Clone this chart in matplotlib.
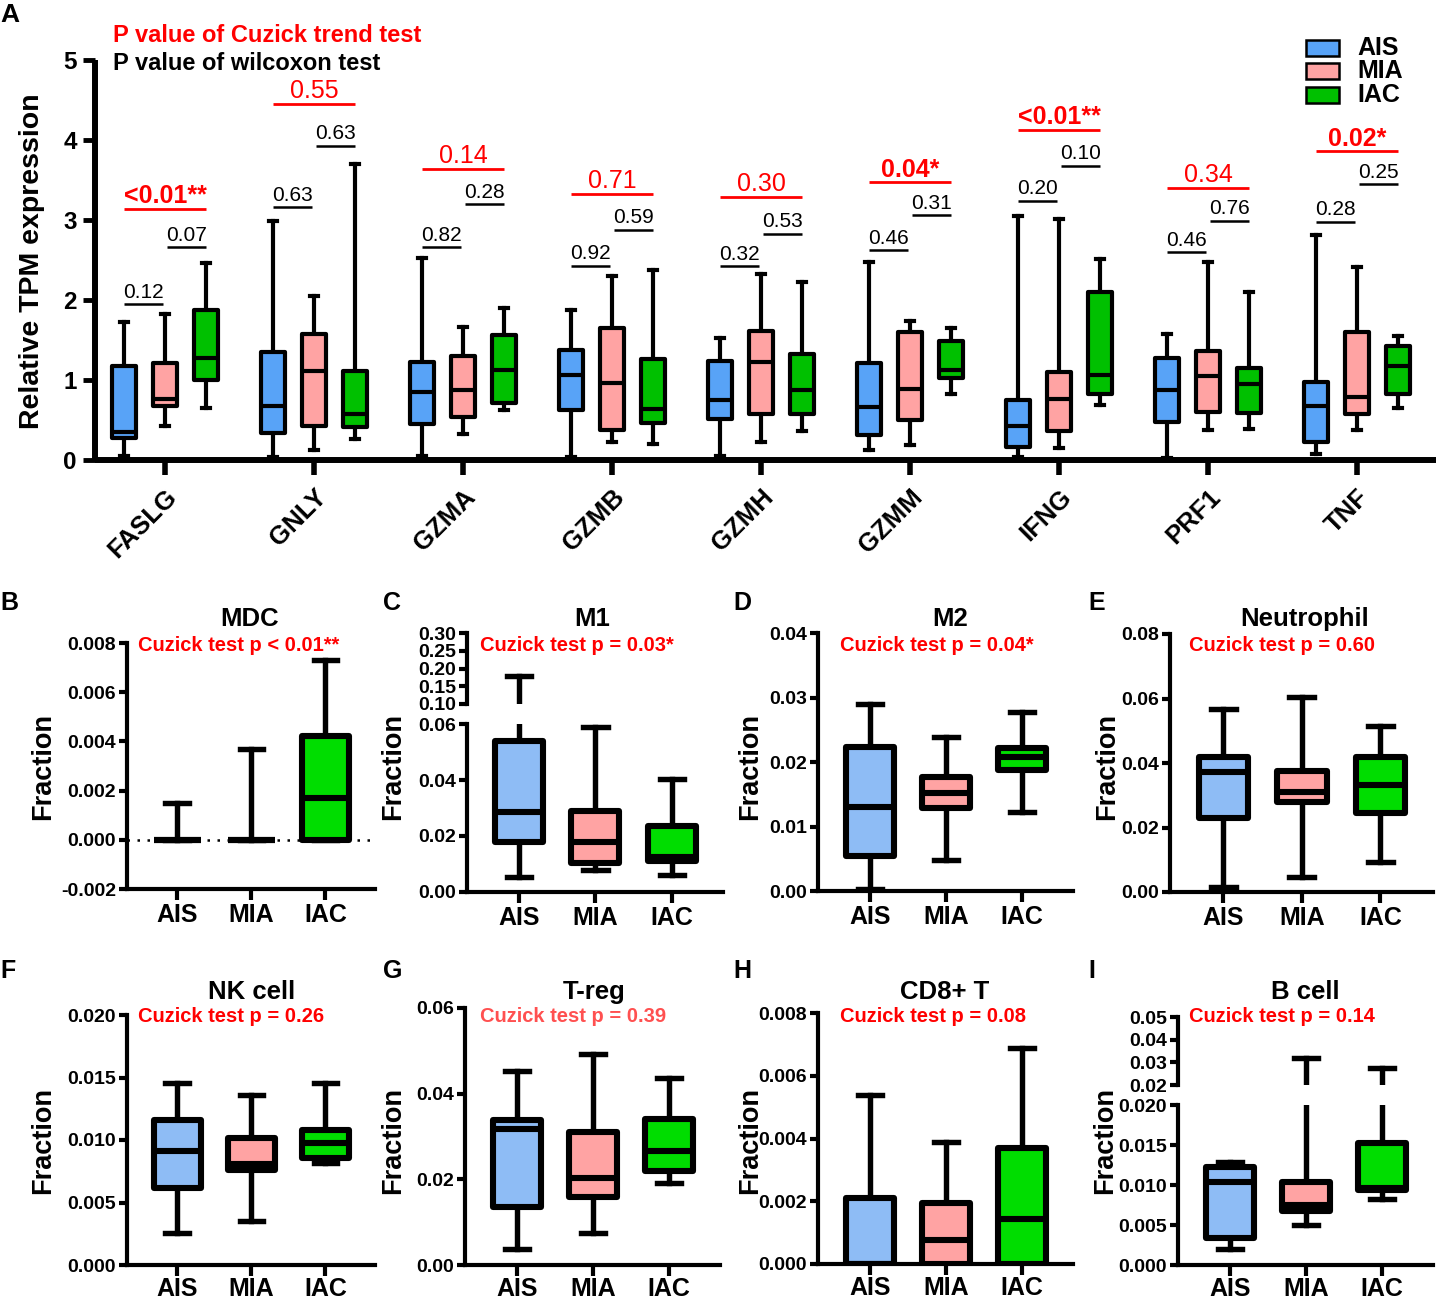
import matplotlib
matplotlib.use('Agg')
import matplotlib.pyplot as plt
from matplotlib.patches import Rectangle

plt.rcParams['font.family'] = ['Liberation Sans', 'DejaVu Sans']
plt.rcParams['font.weight'] = 'bold'

W, H = 1436, 1301
fig = plt.figure(figsize=(W / 100, H / 100), dpi=100)

def rect(x0, y0, x1, y1):
    return [x0 / W, 1 - y1 / H, (x1 - x0) / W, (y1 - y0) / H]

def ftext(x, y, s, **kw):
    return fig.text(x / W, 1 - y / H, s, **kw)

# ---------------- data ----------------
groups = ['AIS', 'MIA', 'IAC']
genes = ['FASLG', 'GNLY', 'GZMA', 'GZMB', 'GZMH', 'GZMM', 'IFNG', 'PRF1', 'TNF']

# (min, q1, median, q3, max) per gene
ais_expr = [(0.05, 0.28, 0.35, 1.17, 1.72), (0.04, 0.34, 0.67, 1.35, 2.99), (0.05, 0.45, 0.85, 1.23, 2.53),
            (0.04, 0.63, 1.06, 1.38, 1.88), (0.05, 0.51, 0.75, 1.24, 1.52), (0.12, 0.31, 0.66, 1.21, 2.47),
            (0.04, 0.16, 0.43, 0.75, 3.05), (0.02, 0.48, 0.87, 1.27, 1.58), (0.07, 0.23, 0.67, 0.97, 2.81)]
mia_expr = [(0.42, 0.68, 0.76, 1.21, 1.82), (0.12, 0.42, 1.11, 1.57, 2.05), (0.33, 0.54, 0.88, 1.30, 1.66),
            (0.23, 0.37, 0.96, 1.65, 2.30), (0.22, 0.57, 1.23, 1.61, 2.33), (0.19, 0.50, 0.89, 1.60, 1.74),
            (0.15, 0.36, 0.76, 1.10, 3.01), (0.38, 0.60, 1.05, 1.36, 2.48), (0.37, 0.57, 0.79, 1.60, 2.41)]
iac_expr = [(0.65, 1.00, 1.27, 1.88, 2.46), (0.26, 0.41, 0.58, 1.11, 3.70), (0.63, 0.71, 1.13, 1.56, 1.90),
            (0.20, 0.46, 0.64, 1.26, 2.38), (0.36, 0.57, 0.87, 1.33, 2.22), (0.83, 1.02, 1.13, 1.49, 1.65),
            (0.69, 0.82, 1.06, 2.10, 2.51), (0.39, 0.59, 0.95, 1.15, 2.10), (0.65, 0.82, 1.18, 1.43, 1.55)]

cuzick_p = ['<0.01**', '0.55', '0.14', '0.71', '0.30', '0.04*', '<0.01**', '0.34', '0.02*']
wilcox_ais_mia = ['0.12', '0.63', '0.82', '0.92', '0.32', '0.46', '0.20', '0.46', '0.28']
wilcox_mia_iac = ['0.07', '0.63', '0.28', '0.59', '0.53', '0.31', '0.10', '0.76', '0.25']
cuzick_y = [3.14, 4.45, 3.64, 3.33, 3.29, 3.47, 4.13, 3.40, 3.86]
wil1_y = [1.95, 3.16, 2.66, 2.43, 2.42, 2.62, 3.24, 2.60, 2.98]
wil2_y = [2.66, 3.93, 3.20, 2.88, 2.83, 3.06, 3.68, 2.99, 3.45]

# small panels: (min, q1, median, q3, max) for AIS, MIA, IAC
cells = ['MDC', 'M1', 'M2', 'Neutrophil', 'NK cell', 'T-reg', 'CD8+ T', 'B cell']
cell_p = ['Cuzick test p < 0.01**', 'Cuzick test p = 0.03*', 'Cuzick test p = 0.04*', 'Cuzick test p = 0.60',
          'Cuzick test p = 0.26', 'Cuzick test p = 0.39', 'Cuzick test p = 0.08', 'Cuzick test p = 0.14']
mdc = [(0, 0, 0, 0, 0.0015), (0, 0, 0, 0, 0.0037), (0, 0, 0.0017, 0.0042, 0.0073)]
m1 = [(0.0055, 0.0178, 0.0285, 0.054, 0.179), (0.0078, 0.0102, 0.018, 0.029, 0.0588), (0.006, 0.011, 0.0125, 0.0237, 0.0403)]
m2 = [(0.0003, 0.0054, 0.013, 0.0224, 0.029), (0.0048, 0.0128, 0.0152, 0.0176, 0.0239), (0.0122, 0.0188, 0.0207, 0.0222, 0.0278)]
neutrophil = [(0.0016, 0.0228, 0.0372, 0.0419, 0.0567), (0.0047, 0.0279, 0.031, 0.0375, 0.0605), (0.0093, 0.0245, 0.0332, 0.0419, 0.0515)]
nk = [(0.0026, 0.0062, 0.0091, 0.0116, 0.0146), (0.0035, 0.0076, 0.0081, 0.0102, 0.0136), (0.0082, 0.0086, 0.0098, 0.0108, 0.0146)]
treg = [(0.0037, 0.0135, 0.0318, 0.0338, 0.0453), (0.0075, 0.0159, 0.0203, 0.031, 0.0492), (0.0191, 0.0219, 0.0267, 0.034, 0.0436)]
cd8 = [(0, 0, 0, 0.0021, 0.0054), (0, 0, 0.00078, 0.00195, 0.0039), (0, 0, 0.00145, 0.0037, 0.0069)]
bcell = [(0.002, 0.0034, 0.0104, 0.0122, 0.0129), (0.005, 0.0068, 0.0075, 0.0104, 0.0319), (0.0083, 0.0094, 0.0096, 0.0152, 0.0275)]

colors_A = ['#58A3F7', '#FFA3A3', '#00C000']
colors_S = ['#8EBCF5', '#FFA3A3', '#00DD00']
RED = '#FF0000'

def to_stats(t):
    mn, q1, md, q3, mx = t
    return dict(whislo=mn, q1=q1, med=md, q3=q3, whishi=mx, fliers=[])

def draw_boxes(ax, stats_list, positions, width, capw, colors, lw, wlw):
    for st, pos, c in zip(stats_list, positions, colors):
        b = ax.bxp([to_stats(st)], positions=[pos], widths=width, capwidths=capw,
                   patch_artist=True, showfliers=False, manage_ticks=False,
                   boxprops=dict(facecolor=c, edgecolor='black', linewidth=lw, joinstyle='round'),
                   medianprops=dict(color='black', linewidth=lw),
                   whiskerprops=dict(color='black', linewidth=wlw),
                   capprops=dict(color='black', linewidth=wlw))
        for art in b['boxes']:
            art.set_zorder(3)
        for art in b['medians']:
            art.set_zorder(4)

# ---------------- Panel A ----------------
axA = fig.add_axes(rect(95, 60, 1436, 460))
axA.set_xlim(-0.47, 8.53)
axA.set_ylim(0, 5)
offs = [-0.275, 0.0, 0.275]
for g, expr in enumerate([ais_expr, mia_expr, iac_expr]):
    draw_boxes(axA, expr, [i + offs[g] for i in range(len(genes))], 0.16, 0.05,
               [colors_A[g]] * len(genes), 3.0, 3.0)

for i in range(len(genes)):
    p = cuzick_p[i]
    sig = '*' in p
    axA.plot([i - 0.275, i + 0.275], [cuzick_y[i]] * 2, color=RED, lw=2.0, solid_capstyle='butt')
    axA.text(i, cuzick_y[i] + 0.07, p, color=RED, fontsize=18,
             fontweight='bold' if sig else 'normal', ha='center', va='baseline')
    axA.plot([i - 0.275, i - 0.015], [wil1_y[i]] * 2, color='black', lw=1.8, solid_capstyle='butt')
    axA.text(i - 0.145, wil1_y[i] + 0.08, wilcox_ais_mia[i], color='black', fontsize=15,
             fontweight='normal', ha='center', va='baseline')
    axA.plot([i + 0.015, i + 0.275], [wil2_y[i]] * 2, color='black', lw=1.8, solid_capstyle='butt')
    axA.text(i + 0.145, wil2_y[i] + 0.08, wilcox_mia_iac[i], color='black', fontsize=15,
             fontweight='normal', ha='center', va='baseline')

for s in ['top', 'right']:
    axA.spines[s].set_visible(False)
for s in ['left', 'bottom']:
    axA.spines[s].set_linewidth(4.3)
    axA.spines[s].set_capstyle('butt')
axA.set_yticks(range(6))
axA.set_yticklabels([str(v) for v in range(6)], fontsize=17.5, fontweight='bold')
axA.set_xticks(range(len(genes)))
axA.set_xticklabels(genes, fontsize=18.5, fontweight='bold', rotation=45, ha='right',
                    rotation_mode='anchor')
axA.tick_params(axis='y', length=9, width=3.5, pad=4)
axA.tick_params(axis='x', length=11, width=4, pad=7)

ftext(32, 261, 'Relative TPM expression', rotation=90, fontsize=20.5, fontweight='bold',
      ha='center', va='center')
ftext(113, 35, 'P value of Cuzick trend test', color=RED, fontsize=17, fontweight='bold', va='center')
ftext(113, 63, 'P value of wilcoxon test', color='black', fontsize=17, fontweight='bold', va='center')
ftext(0, 15, 'A', fontsize=19, fontweight='bold', va='center')

# legend (manual, in pixel space)
leg_y = [48, 71, 95]
for name, c, yy in zip(groups, colors_A, leg_y):
    fig.patches.append(Rectangle(((1306) / W, 1 - (yy + 8) / H), 33 / W, 16 / H, transform=fig.transFigure,
                                 facecolor=c, edgecolor='black', linewidth=1.8))
    ftext(1357, yy, name, fontsize=18, fontweight='bold', va='center')

# ---------------- small panels ----------------
XL = (-0.68, 2.67)

def style_small(ax, ylim, yticks, fmt, show_x=True, xpad=2):
    ax.set_xlim(*XL)
    ax.set_ylim(*ylim)
    for s in ['top', 'right']:
        ax.spines[s].set_visible(False)
    for s in ['left', 'bottom']:
        ax.spines[s].set_linewidth(3.0)
    ax.set_yticks(yticks)
    ax.set_yticklabels([fmt.format(v) for v in yticks], fontsize=14, fontweight='bold')
    ax.tick_params(axis='y', length=6, width=3, pad=2)
    if show_x:
        ax.set_xticks([0, 1, 2])
        ax.set_xticklabels(groups, fontsize=18, fontweight='bold')
        ax.tick_params(axis='x', length=8, width=3, pad=xpad)
    else:
        ax.spines['bottom'].set_visible(False)
        ax.set_xticks([])

def yticks_range(a, b, step):
    n = int(round((b - a) / step))
    return [a + k * step for k in range(n + 1)]

panel_specs = [
    (mdc, (127, 643, 375, 889), (-0.002, 0.008), yticks_range(-0.002, 0.008, 0.002), '{:.3f}', None, None, None, None),
    (m1, (467, 724, 723, 892), (0, 0.06), yticks_range(0, 0.06, 0.02), '{:.2f}', (467, 633, 723, 704), (0.10, 0.30), yticks_range(0.10, 0.30, 0.05), '{:.2f}'),
    (m2, (818, 633, 1073, 891), (0, 0.04), yticks_range(0, 0.04, 0.01), '{:.2f}', None, None, None, None),
    (neutrophil, (1170, 634, 1433, 892), (0, 0.08), yticks_range(0, 0.08, 0.02), '{:.2f}', None, None, None, None),
    (nk, (127, 1015, 375, 1265), (0, 0.020), yticks_range(0, 0.020, 0.005), '{:.3f}', None, None, None, None),
    (treg, (465, 1008, 720, 1265), (0, 0.06), yticks_range(0, 0.06, 0.02), '{:.2f}', None, None, None, None),
    (cd8, (818, 1013, 1073, 1264), (0, 0.008), yticks_range(0, 0.008, 0.002), '{:.3f}', None, None, None, None),
    (bcell, (1178, 1105, 1433, 1265), (0, 0.020), yticks_range(0, 0.020, 0.005), '{:.3f}', (1178, 1017, 1433, 1085), (0.02, 0.05), yticks_range(0.02, 0.05, 0.01), '{:.2f}'),
]
title_pos = [(250, 619), (592, 619), (950, 619), (1305, 619), (252, 992), (594, 992), (945, 992), (1305, 992)]
ptext_pos = [(138, 645), (480, 645), (840, 645), (1189, 645), (138, 1017), (480, 1017), (840, 1017), (1189, 1017)]
ylab_pos = [(43, 767), (393, 767), (750, 767), (1107, 767), (43, 1140), (393, 1140), (750, 1140), (1105, 1140)]
letters = ['B', 'C', 'D', 'E', 'F', 'G', 'H', 'I']
letter_pos = [(0, 603), (383, 603), (733, 603), (1088, 603), (0, 971), (383, 971), (733, 971), (1088, 971)]
ptext_colors = [RED, RED, RED, RED, RED, '#FF5050', RED, RED]

for k, spec in enumerate(panel_specs):
    data, r, yl, yt, fmt, ur, uyl, uyt, ufmt = spec
    ax = fig.add_axes(rect(*r))
    draw_boxes(ax, data, [0, 1, 2], 0.63, 0.32, colors_S, 4.4, 3.9)
    style_small(ax, yl, yt, fmt, xpad=2 if k < 4 else 0.5)
    if k == 0:
        ax.axhline(0, color='black', lw=1.8, ls=(0, (1, 3)), zorder=1)
    if ur is not None:
        axu = fig.add_axes(rect(*ur))
        draw_boxes(axu, data, [0, 1, 2], 0.63, 0.32, colors_S, 4.4, 3.9)
        style_small(axu, uyl, uyt, ufmt, show_x=False)
        axu.patch.set_alpha(0)
    ftext(*title_pos[k], cells[k], fontsize=18.5, fontweight='bold', ha='center', va='center')
    ftext(*ptext_pos[k], cell_p[k], fontsize=14.5, fontweight='bold', color=ptext_colors[k], va='center')
    ftext(*ylab_pos[k], 'Fraction', fontsize=19.5, fontweight='bold', rotation=90, ha='center', va='center')
    ftext(*letter_pos[k], letters[k], fontsize=18, fontweight='bold', va='center')

fig.savefig('out.png', dpi=100)
